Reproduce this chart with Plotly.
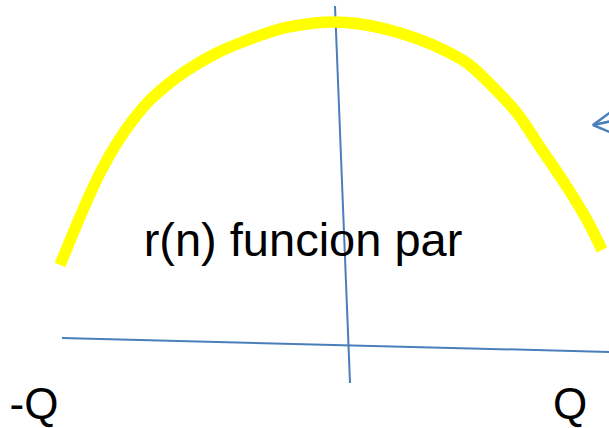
import plotly.graph_objects as go

# Curve r(n) (pixel-like coordinates)
curve_x = [60, 83, 100, 117, 133, 150, 183, 217, 240, 280, 300, 330, 360, 400, 433, 467, 493, 517, 540, 567, 587, 602]
curve_y = [265, 210, 173, 143, 120, 100, 73, 53, 43, 29, 25, 22, 24, 33, 45, 63, 87, 113, 147, 187, 220, 250]

# Axes lines
haxis_x = [62, 612]
haxis_y = [338, 352]
vaxis_x = [335, 350]
vaxis_y = [6, 383]

# Arrow head
arrow_x = [612, 593, 612, None, 593, 612]
arrow_y = [111, 125, 133, None, 125, 121]

labels = ["-Q", "Q", "r(n) funcion par"]
label_x = [34, 570, 303]
label_y = [408, 408, 244]

BLUE = "#4A7EBB"
fig = go.Figure()
fig.add_trace(go.Scatter(x=haxis_x, y=haxis_y, mode="lines", line=dict(color=BLUE, width=2), hoverinfo="skip", cliponaxis=False))
fig.add_trace(go.Scatter(x=vaxis_x, y=vaxis_y, mode="lines", line=dict(color=BLUE, width=2), hoverinfo="skip", cliponaxis=False))
fig.add_trace(go.Scatter(x=curve_x, y=curve_y, mode="lines", line=dict(color="#FFFF00", width=11.5, shape="spline", smoothing=1.0), hoverinfo="skip", cliponaxis=False))
fig.add_trace(go.Scatter(x=arrow_x, y=arrow_y, mode="lines", line=dict(color=BLUE, width=2.5), hoverinfo="skip", cliponaxis=False))
fig.add_trace(go.Scatter(x=label_x, y=label_y, mode="text", text=labels,
                         textfont=dict(family="Liberation Sans, Arial", size=[44, 44, 47], color="black"),
                         textposition="middle center", hoverinfo="skip", cliponaxis=False))

fig.update_layout(
    width=609, height=428, margin=dict(l=0, r=0, t=0, b=0),
    paper_bgcolor="white", plot_bgcolor="white", showlegend=False,
    xaxis=dict(range=[0, 609], visible=False, fixedrange=True),
    yaxis=dict(range=[428, 0], visible=False, fixedrange=True),
)
fig.write_html("out.html", config={"displayModeBar": False, "staticPlot": True},
               post_script="document.body.style.margin='0';document.body.style.overflow='hidden';")
